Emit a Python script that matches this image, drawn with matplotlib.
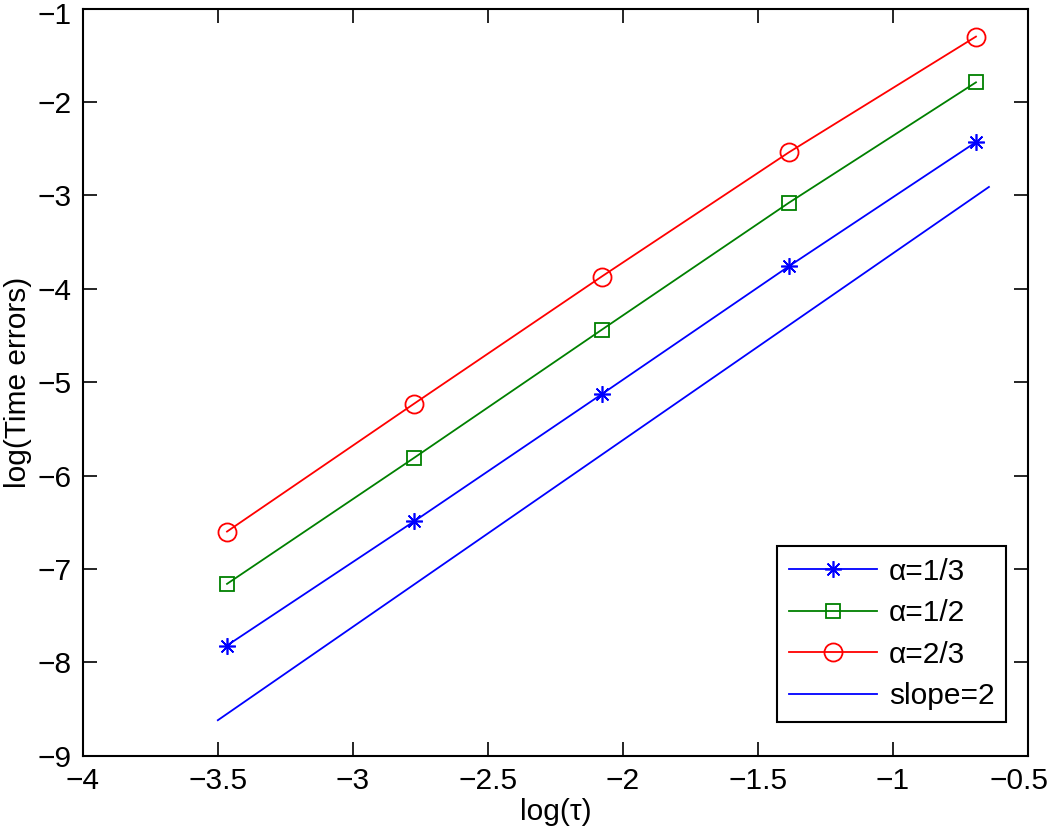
import numpy as np
import matplotlib.pyplot as plt
import matplotlib.transforms as mtransforms

plt.rcParams['font.family'] = ['Liberation Sans', 'DejaVu Sans']
plt.rcParams['axes.unicode_minus'] = True

# log(tau), tau = 1/32 ... 1/2
log_tau = [-3.466, -2.773, -2.079, -1.386, -0.693]
err_a13 = [-7.82, -6.49, -5.13, -3.76, -2.43]
err_a12 = [-7.16, -5.81, -4.44, -3.08, -1.79]
err_a23 = [-6.60, -5.23, -3.87, -2.54, -1.30]
# reference line of slope 2
ref_x = [-3.5, -0.645]
ref_y = [-8.62, -2.91]

fig = plt.figure(figsize=(10.48, 8.32), dpi=100)
ax = fig.add_axes([0.079, 0.0917, 0.902, 0.898])

ax.plot(log_tau, err_a13, color='#0000ff', lw=1.3, marker=(8, 2, 0), ms=12,
        mew=1.2, label='α=1/3')
ax.plot(log_tau, err_a12, color='#008000', lw=1.3, marker='s', ms=10.5,
        mfc='none', mew=1.3, label='α=1/2')
ax.plot(log_tau, err_a23, color='#ff0000', lw=1.3, marker='o', ms=13,
        mfc='none', mew=1.3, label='α=2/3')
ax.plot(ref_x, ref_y, color='#0000ff', lw=1.3, label='slope=2')

ax.set_xlim(-4, -0.5)
ax.set_ylim(-9, -1)
ax.set_xticks(np.arange(-4, -0.49, 0.5))
ax.set_yticks(np.arange(-9, -0.9, 1))
ax.set_xticklabels(['−4', '−3.5', '−3', '−2.5', '−2', '−1.5', '−1', '−0.5'])
ax.set_yticklabels(['−9', '−8', '−7', '−6', '−5', '−4', '−3', '−2', '−1'])
ax.tick_params(direction='in', length=10, width=1.2, labelsize=21.5,
               top=True, right=True, pad=8)
for s in ax.spines.values():
    s.set_linewidth(1.5)

# keep the outer tick labels inside the figure
last = ax.get_xticklabels()[-1]
last.set_transform(last.get_transform() +
                   mtransforms.ScaledTranslation(-0.09, 0, fig.dpi_scale_trans))
top = ax.get_yticklabels()[-1]
top.set_transform(top.get_transform() +
                  mtransforms.ScaledTranslation(0, -0.04, fig.dpi_scale_trans))

ax.set_xlabel('log(τ)', fontsize=21.5, labelpad=2)
ax.set_ylabel('log(Time errors)', fontsize=21.5, labelpad=4)

leg = ax.legend(loc='lower right', fontsize=21.5, fancybox=False, framealpha=1,
                edgecolor='black', borderpad=0.4, labelspacing=0.45,
                handlelength=2.95, handletextpad=0.4, borderaxespad=0,
                bbox_to_anchor=(0.977, 0.045))
leg.get_frame().set_linewidth(1.5)

fig.savefig('out.png', dpi=100)
